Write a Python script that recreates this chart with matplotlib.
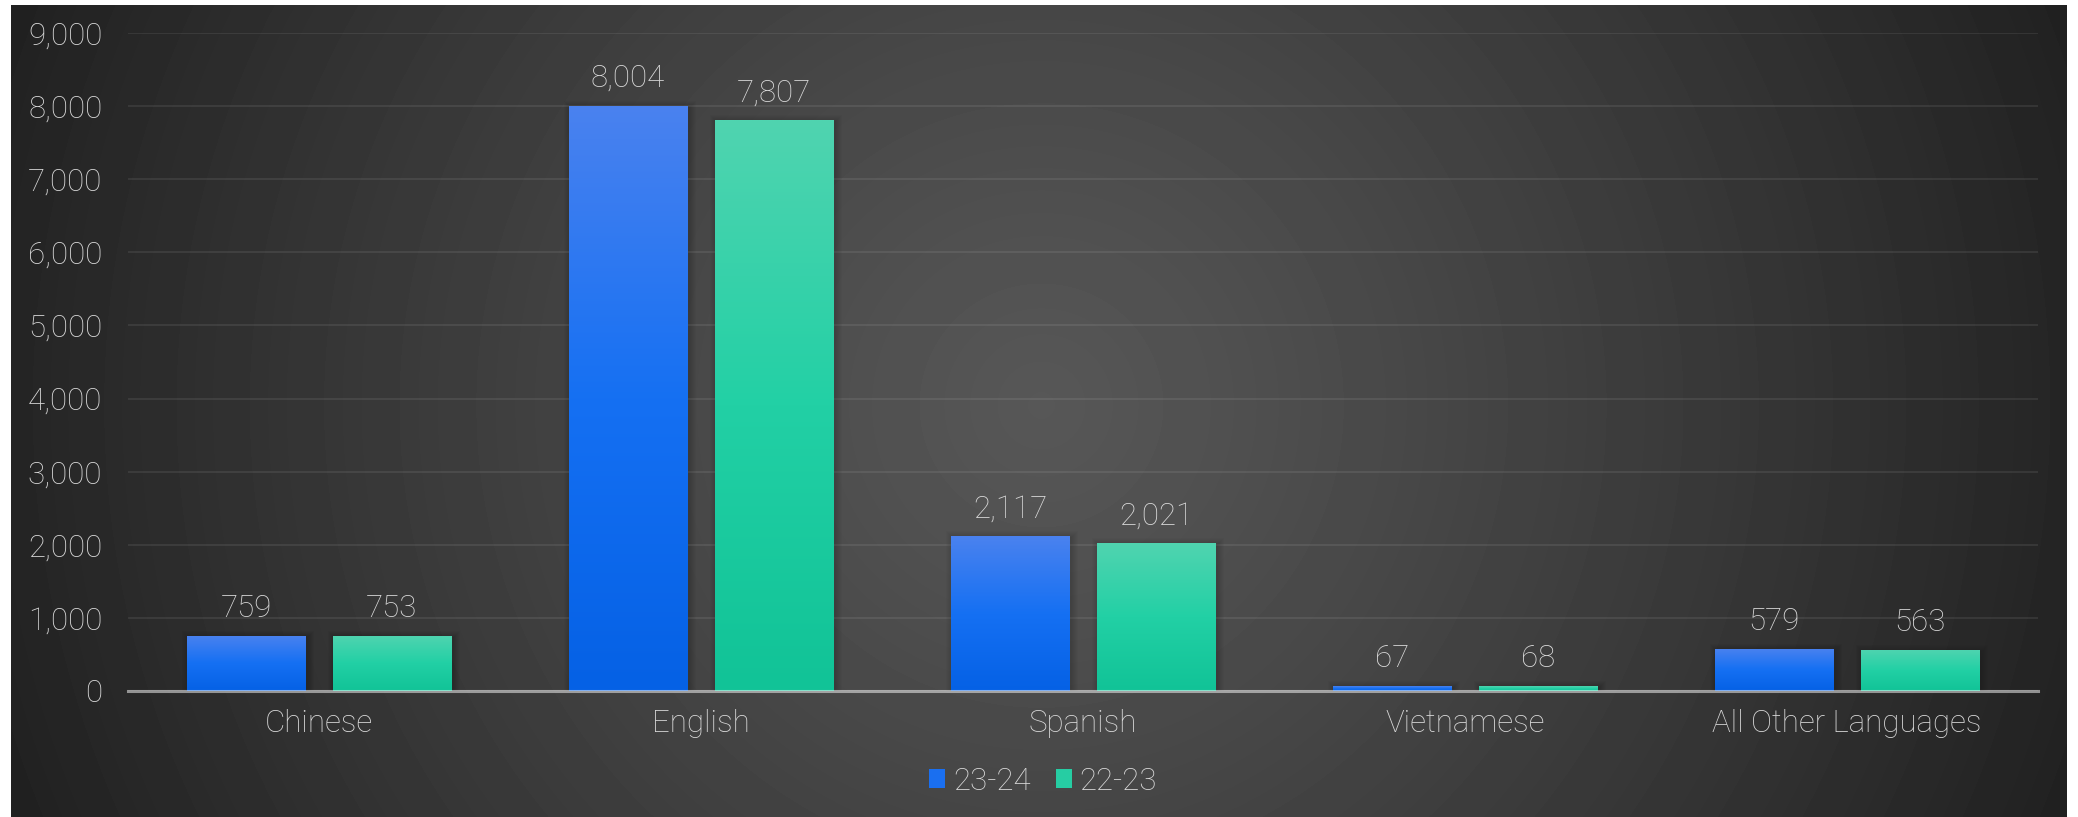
import matplotlib
matplotlib.use("Agg")
import matplotlib.pyplot as plt
import numpy as np
from matplotlib.colors import LinearSegmentedColormap
from matplotlib.patches import Rectangle
from matplotlib.ticker import FuncFormatter

languages = ["Chinese", "English", "Spanish", "Vietnamese", "All Other Languages"]
y2324 = [759, 8004, 2117, 67, 579]
y2223 = [753, 7807, 2021, 68, 563]
series_names = ["23-24", "22-23"]

plt.rcParams['font.family'] = ['Roboto', 'DejaVu Sans']
plt.rcParams['font.weight'] = 'light'
txt = '#dadada'
fs = 22.5

W, H = 2078, 817
fig = plt.figure(figsize=(W / 100, H / 100), dpi=100)
fig.patch.set_facecolor('white')

# radial background of the chart area
bg = fig.add_axes([11 / W, 0, (2067 - 11) / W, (817 - 5) / H], zorder=0)
bw, bh = 2056, 812
xx, yy = np.meshgrid(np.arange(bw), np.arange(bh))
r = np.hypot(xx - 1030, yy - 400) / 1130.0
r = np.clip(r, 0, 1)
level = 0x57 - (0x57 - 0x1f) * r ** 1.15
bg.imshow(level, cmap='gray', vmin=0, vmax=255, aspect='auto', interpolation='bilinear')
bg.axis('off')

ax = fig.add_axes([128 / W, 1 - 691 / H, (2038 - 128) / W, (691 - 33) / H], zorder=1)
ax.patch.set_alpha(0)

x = np.arange(len(languages))
off, bwid = 0.191, 0.311
bars1 = ax.bar(x - off, y2324, bwid, facecolor='none', edgecolor='none', label=series_names[0], zorder=3)
bars2 = ax.bar(x + off, y2223, bwid, facecolor='none', edgecolor='none', label=series_names[1], zorder=3)

blue = LinearSegmentedColormap.from_list('b', ['#0561e5', '#1570f3', '#4a82ef'])
green = LinearSegmentedColormap.from_list('g', ['#11c397', '#22d0a5', '#50d4b0'])
grad = np.linspace(0, 1, 256)[::-1].reshape(-1, 1)

px_x = 1 / 382.0
px_y = 9000 / 658.0
for bars, cm in [(bars1, blue), (bars2, green)]:
    for b in bars:
        x0, w, h = b.get_x(), b.get_width(), b.get_height()
        # soft shadow
        for k in range(1, 8):
            ax.add_patch(Rectangle((x0 - k * px_x + 2 * px_x, 0), w + 2 * k * px_x,
                                   max(h + k * px_y - 2 * px_y, 0), facecolor='black', edgecolor='none',
                                   alpha=0.022, zorder=2))
        im = ax.imshow(grad, cmap=cm, extent=(x0, x0 + w, 0, h), aspect='auto', zorder=3,
                       interpolation='bilinear')
        im.set_clip_path(b)

for bars, vals in [(bars1, y2324), (bars2, y2223)]:
    for b, v in zip(bars, vals):
        ax.annotate(f"{v:,}", (b.get_x() + b.get_width() / 2, v), xytext=(0, 13.5),
                    textcoords='offset points', ha='center', va='baseline', color=txt, fontsize=fs)

ax.set_xlim(-0.5, len(languages) - 0.5)
ax.set_ylim(0, 9000)
ax.set_yticks(np.arange(0, 9001, 1000))
ax.yaxis.set_major_formatter(FuncFormatter(lambda v, p: f"{int(v):,}"))
ax.set_xticks(x)
ax.set_xticklabels(languages)
ax.tick_params(axis='y', length=0, pad=18.5, labelcolor=txt, labelsize=fs)
ax.tick_params(axis='x', length=0, pad=13, labelcolor=txt, labelsize=fs)
ax.grid(axis='y', color='white', alpha=0.08, linewidth=1.5, zorder=1)
ax.set_axisbelow(True)
for s in ax.spines.values():
    s.set_visible(False)
ax.axhline(0, color='white', alpha=0.5, linewidth=2.2, zorder=4, clip_on=False)

handles = [Rectangle((0, 0), 1, 1, facecolor='#1a6ff0'), Rectangle((0, 0), 1, 1, facecolor='#26cda3')]
leg = fig.legend(handles, series_names, loc='center', bbox_to_anchor=(1043 / W, 1 - 781 / H), ncol=2,
                 frameon=False, fontsize=fs, labelcolor=txt, handlelength=0.52, handleheight=0.52,
                 handletextpad=0.25, columnspacing=0.8)

fig.savefig("out.png", dpi=100, facecolor='white')
